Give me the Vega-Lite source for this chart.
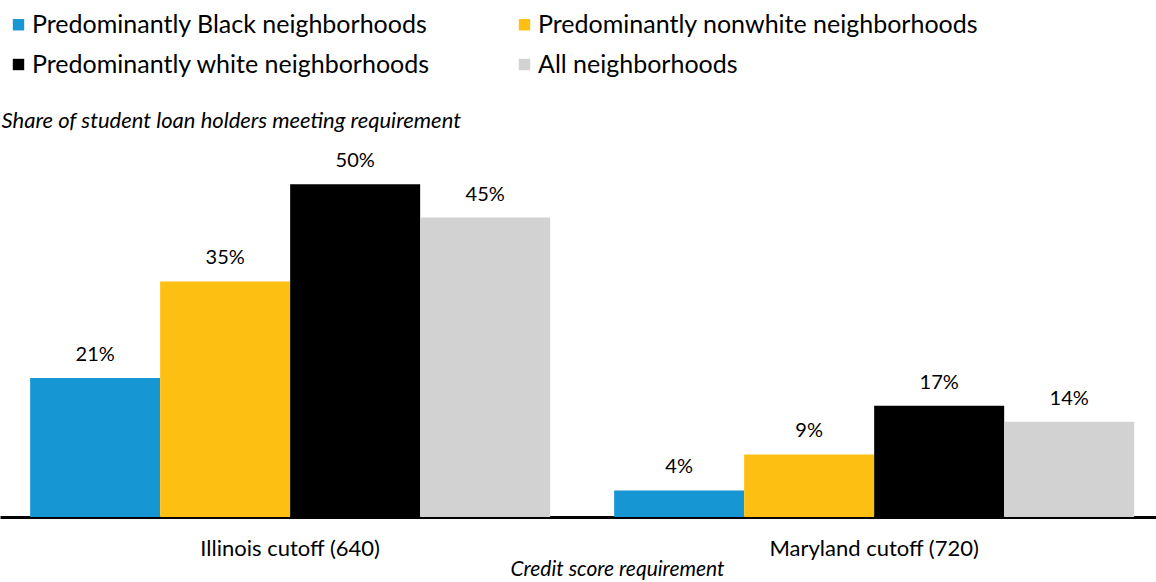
{
  "$schema": "https://vega.github.io/schema/vega-lite/v6.json",
  "width": 1156,
  "height": 366,
  "autosize": "none",
  "padding": {"left": 0, "top": 151, "right": 0, "bottom": 65},
  "background": "white",
  "config": {
    "view": {"stroke": null},
    "font": "Lato",
    "text": {"font": "Lato"}
  },
  "data": {
    "values": [
      {"cutoff": "Illinois cutoff (640)", "group": "Predominantly Black neighborhoods", "share": 0.209},
      {"cutoff": "Illinois cutoff (640)", "group": "Predominantly nonwhite neighborhoods", "share": 0.354},
      {"cutoff": "Illinois cutoff (640)", "group": "Predominantly white neighborhoods", "share": 0.500},
      {"cutoff": "Illinois cutoff (640)", "group": "All neighborhoods", "share": 0.450},
      {"cutoff": "Maryland cutoff (720)", "group": "Predominantly Black neighborhoods", "share": 0.040},
      {"cutoff": "Maryland cutoff (720)", "group": "Predominantly nonwhite neighborhoods", "share": 0.094},
      {"cutoff": "Maryland cutoff (720)", "group": "Predominantly white neighborhoods", "share": 0.167},
      {"cutoff": "Maryland cutoff (720)", "group": "All neighborhoods", "share": 0.143}
    ]
  },
  "encoding": {
    "x": {
      "field": "cutoff",
      "type": "nominal",
      "scale": {"paddingInner": 0.1096, "paddingOuter": 0.0445, "align": 0.58},
      "axis": {
        "title": "Credit score requirement",
        "titleFont": "Lato",
        "titleFontSize": 21,
        "titleFontStyle": "italic",
        "titleFontWeight": "normal",
        "titleColor": "black",
        "titleX": 617,
        "titleY": 58,
        "titleBaseline": "alphabetic",
        "titleAlign": "center",
        "labelAngle": 0,
        "labelFont": "Lato",
        "labelFontSize": 22,
        "labelColor": "black",
        "labelPadding": 21,
        "labelLimit": 500,
        "ticks": false,
        "tickSize": 0,
        "domainColor": "black",
        "domainWidth": 3,
        "grid": false
      }
    },
    "xOffset": {
      "field": "group",
      "type": "nominal",
      "sort": ["Predominantly Black neighborhoods", "Predominantly nonwhite neighborhoods", "Predominantly white neighborhoods", "All neighborhoods"],
      "scale": {"paddingInner": 0, "paddingOuter": 0}
    },
    "y": {
      "field": "share",
      "type": "quantitative",
      "scale": {"domain": [0, 0.55], "nice": false},
      "axis": {
        "title": "Share of student loan holders meeting requirement",
        "titleFont": "Lato",
        "titleFontSize": 22,
        "titleFontStyle": "italic",
        "titleFontWeight": "normal",
        "titleColor": "black",
        "titleAngle": 0,
        "titleAlign": "left",
        "titleBaseline": "alphabetic",
        "titleX": 1,
        "titleY": -24,
        "titleLimit": 1000,
        "labels": false,
        "ticks": false,
        "domain": false,
        "grid": false
      }
    }
  },
  "layer": [
    {
      "mark": {"type": "bar"},
      "encoding": {
        "color": {
          "field": "group",
          "type": "nominal",
          "sort": ["Predominantly Black neighborhoods", "Predominantly nonwhite neighborhoods", "Predominantly white neighborhoods", "All neighborhoods"],
          "scale": {
            "domain": ["Predominantly Black neighborhoods", "Predominantly nonwhite neighborhoods", "Predominantly white neighborhoods", "All neighborhoods"],
            "range": ["#1696d2", "#fdbf11", "#000000", "#d2d2d2"]
          },
          "legend": {
            "title": null,
            "orient": "none",
            "legendX": 6,
            "legendY": -139,
            "direction": "horizontal",
            "columns": 2,
            "columnPadding": 81,
            "rowPadding": 14,
            "symbolType": "square",
            "symbolSize": 130,
            "symbolStrokeWidth": 0,
            "symbolOpacity": 1,
            "labelFont": "Lato",
            "labelFontSize": 25,
            "labelColor": "black",
            "labelOffset": 1,
            "labelLimit": 600,
            "padding": 0
          }
        }
      }
    },
    {
      "mark": {"type": "text", "baseline": "alphabetic", "dy": -17, "fontSize": 20, "font": "Lato", "color": "black"},
      "encoding": {
        "text": {"field": "share", "type": "quantitative", "format": ".0%"}
      }
    }
  ]
}
